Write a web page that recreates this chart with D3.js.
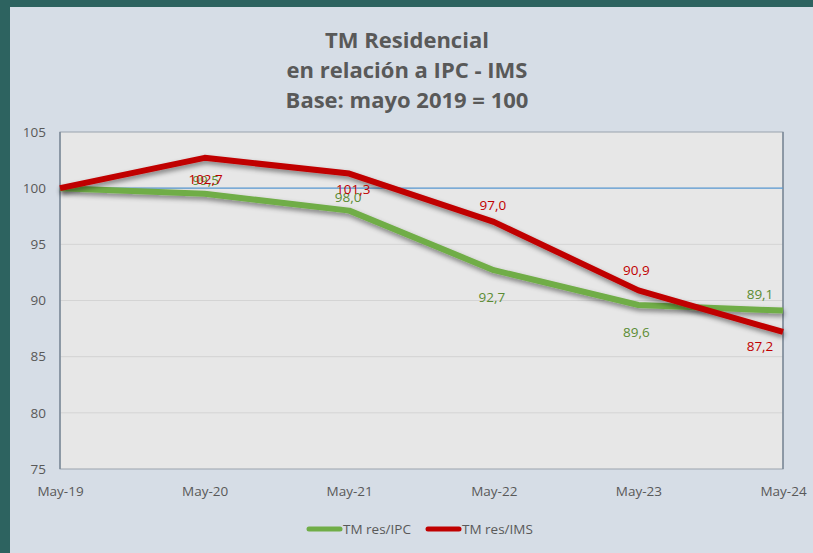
<!DOCTYPE html>
<html>
<head>
<meta charset="utf-8">
<script src="https://cdn.jsdelivr.net/npm/d3@7"></script>
<style>
  body { margin: 0; background: #2d6360; }
  svg { display: block; }
  text { font-family: "Open Sans", sans-serif; }
</style>
</head>
<body>
<div id="chart"></div>
<script>
// data
var categories = ['May-19', 'May-20', 'May-21', 'May-22', 'May-23', 'May-24'];
var ipcValues = [100, 99.5, 98.0, 92.7, 89.6, 89.1];
var imsValues = [100, 102.7, 101.3, 97.0, 90.9, 87.2];
var yTicks = [75, 80, 85, 90, 95, 100, 105];
var titleLines = ['TM Residencial', 'en relación a IPC - IMS', 'Base: mayo 2019 = 100'];

// label offsets (px from point), first point has no label
var ipcLabelOff = [null, [1, -14], [-1, -13], [-2, 27], [-2, 27], [-23, -16]];
var imsLabelOff = [null, [1, 21], [4, 16], [-1, -17], [-2, -20], [-23, 14]];

var W = 813, H = 553;
var plot = { left: 60, right: 783, top: 132, bottom: 469 };
var FONT = '"Open Sans", sans-serif';

var svg = d3.select('#chart').append('svg')
  .attr('width', W)
  .attr('height', H);

// drop shadow for the lines
var defs = svg.append('defs');
var f = defs.append('filter').attr('id', 'shadow')
  .attr('x', '-10%').attr('y', '-20%').attr('width', '120%').attr('height', '160%');
f.append('feDropShadow')
  .attr('dx', 1).attr('dy', 3).attr('stdDeviation', 2.5)
  .attr('flood-color', '#000').attr('flood-opacity', 0.45);

// chart panel
svg.append('rect')
  .attr('x', 10).attr('y', 7)
  .attr('width', W - 10).attr('height', H - 7)
  .attr('fill', '#d6dde6');

// title
svg.append('g').selectAll('text')
  .data(titleLines)
  .join('text')
  .attr('x', 407)
  .attr('y', function(d, i) { return 48 + i * 30; })
  .attr('text-anchor', 'middle')
  .attr('font-size', 22)
  .attr('font-weight', 'bold')
  .attr('fill', '#595959')
  .text(function(d) { return d; });

var x = d3.scalePoint()
  .domain(categories)
  .range([plot.left, plot.right]);

var y = d3.scaleLinear()
  .domain([75, 105])
  .range([plot.bottom, plot.top]);

// plot area
svg.append('rect')
  .attr('x', plot.left).attr('y', plot.top)
  .attr('width', plot.right - plot.left)
  .attr('height', plot.bottom - plot.top)
  .attr('fill', '#e7e7e7');

// gridlines
svg.append('g').selectAll('line')
  .data(yTicks.filter(function(d) { return d > 75 && d < 105; }))
  .join('line')
  .attr('x1', plot.left).attr('x2', plot.right)
  .attr('y1', function(d) { return y(d); })
  .attr('y2', function(d) { return y(d); })
  .attr('stroke', '#d4d4d4')
  .attr('stroke-width', 1);

// plot border
svg.append('rect')
  .attr('x', plot.left).attr('y', plot.top)
  .attr('width', plot.right - plot.left)
  .attr('height', plot.bottom - plot.top)
  .attr('fill', 'none')
  .attr('stroke', '#9aa3ad')
  .attr('stroke-width', 1);
svg.append('line')
  .attr('x1', plot.left).attr('x2', plot.left)
  .attr('y1', plot.top).attr('y2', plot.bottom)
  .attr('stroke', '#7d8a99').attr('stroke-width', 1.5);
svg.append('line')
  .attr('x1', plot.right).attr('x2', plot.right)
  .attr('y1', plot.top).attr('y2', plot.bottom)
  .attr('stroke', '#7d8a99').attr('stroke-width', 1.5);

// base 100 reference line
svg.append('line')
  .attr('x1', plot.left).attr('x2', plot.right)
  .attr('y1', y(100)).attr('y2', y(100))
  .attr('stroke', '#5b9bd5')
  .attr('stroke-width', 1.2);

// y axis
var yAxis = svg.append('g')
  .attr('transform', 'translate(' + (plot.left - 14) + ',0)')
  .call(d3.axisLeft(y).tickValues(yTicks).tickSize(0).tickPadding(0));
yAxis.select('.domain').remove();
yAxis.selectAll('text')
  .attr('font-size', 13.5)
  .attr('fill', '#595959')
  .style('font-family', FONT);

// x axis
var xAxis = svg.append('g')
  .attr('transform', 'translate(0,' + (plot.bottom + 17) + ')')
  .call(d3.axisBottom(x).tickSize(0).tickPadding(0));
xAxis.select('.domain').remove();
xAxis.selectAll('text')
  .attr('font-size', 13.5)
  .attr('fill', '#595959')
  .style('font-family', FONT);

var line = d3.line()
  .x(function(d, i) { return x(categories[i]); })
  .y(function(d) { return y(d); });

var series = [
  { name: 'TM res/IPC', values: ipcValues, color: '#70ad47', label: '#5b8c33', off: ipcLabelOff },
  { name: 'TM res/IMS', values: imsValues, color: '#c00000', label: '#c00000', off: imsLabelOff }
];

series.forEach(function(s) {
  svg.append('path')
    .datum(s.values)
    .attr('d', line)
    .attr('fill', 'none')
    .attr('stroke', s.color)
    .attr('stroke-width', 6)
    .attr('stroke-linejoin', 'round')
    .attr('filter', 'url(#shadow)');
});

// data labels
series.forEach(function(s) {
  svg.append('g').selectAll('text')
    .data(s.values.map(function(v, i) { return { v: v, i: i }; })
      .filter(function(d) { return s.off[d.i]; }))
    .join('text')
    .attr('x', function(d) { return x(categories[d.i]) + s.off[d.i][0]; })
    .attr('y', function(d) { return y(d.v) + s.off[d.i][1]; })
    .attr('dy', '0.35em')
    .attr('text-anchor', 'middle')
    .attr('font-size', 13.5)
    .attr('fill', s.label)
    .text(function(d) { return d3.format('.1f')(d.v).replace('.', ','); });
});

// legend
var legend = svg.append('g').attr('transform', 'translate(0,529)');
var legendX = [309, 428];
series.forEach(function(s, i) {
  legend.append('line')
    .attr('x1', legendX[i]).attr('x2', legendX[i] + 31)
    .attr('y1', 0).attr('y2', 0)
    .attr('stroke', s.color)
    .attr('stroke-width', 5)
    .attr('stroke-linecap', 'round');
  legend.append('text')
    .attr('x', legendX[i] + 34)
    .attr('y', 0)
    .attr('dy', '0.35em')
    .attr('font-size', 13.5)
    .attr('fill', '#595959')
    .text(s.name);
});
</script>
</body>
</html>
